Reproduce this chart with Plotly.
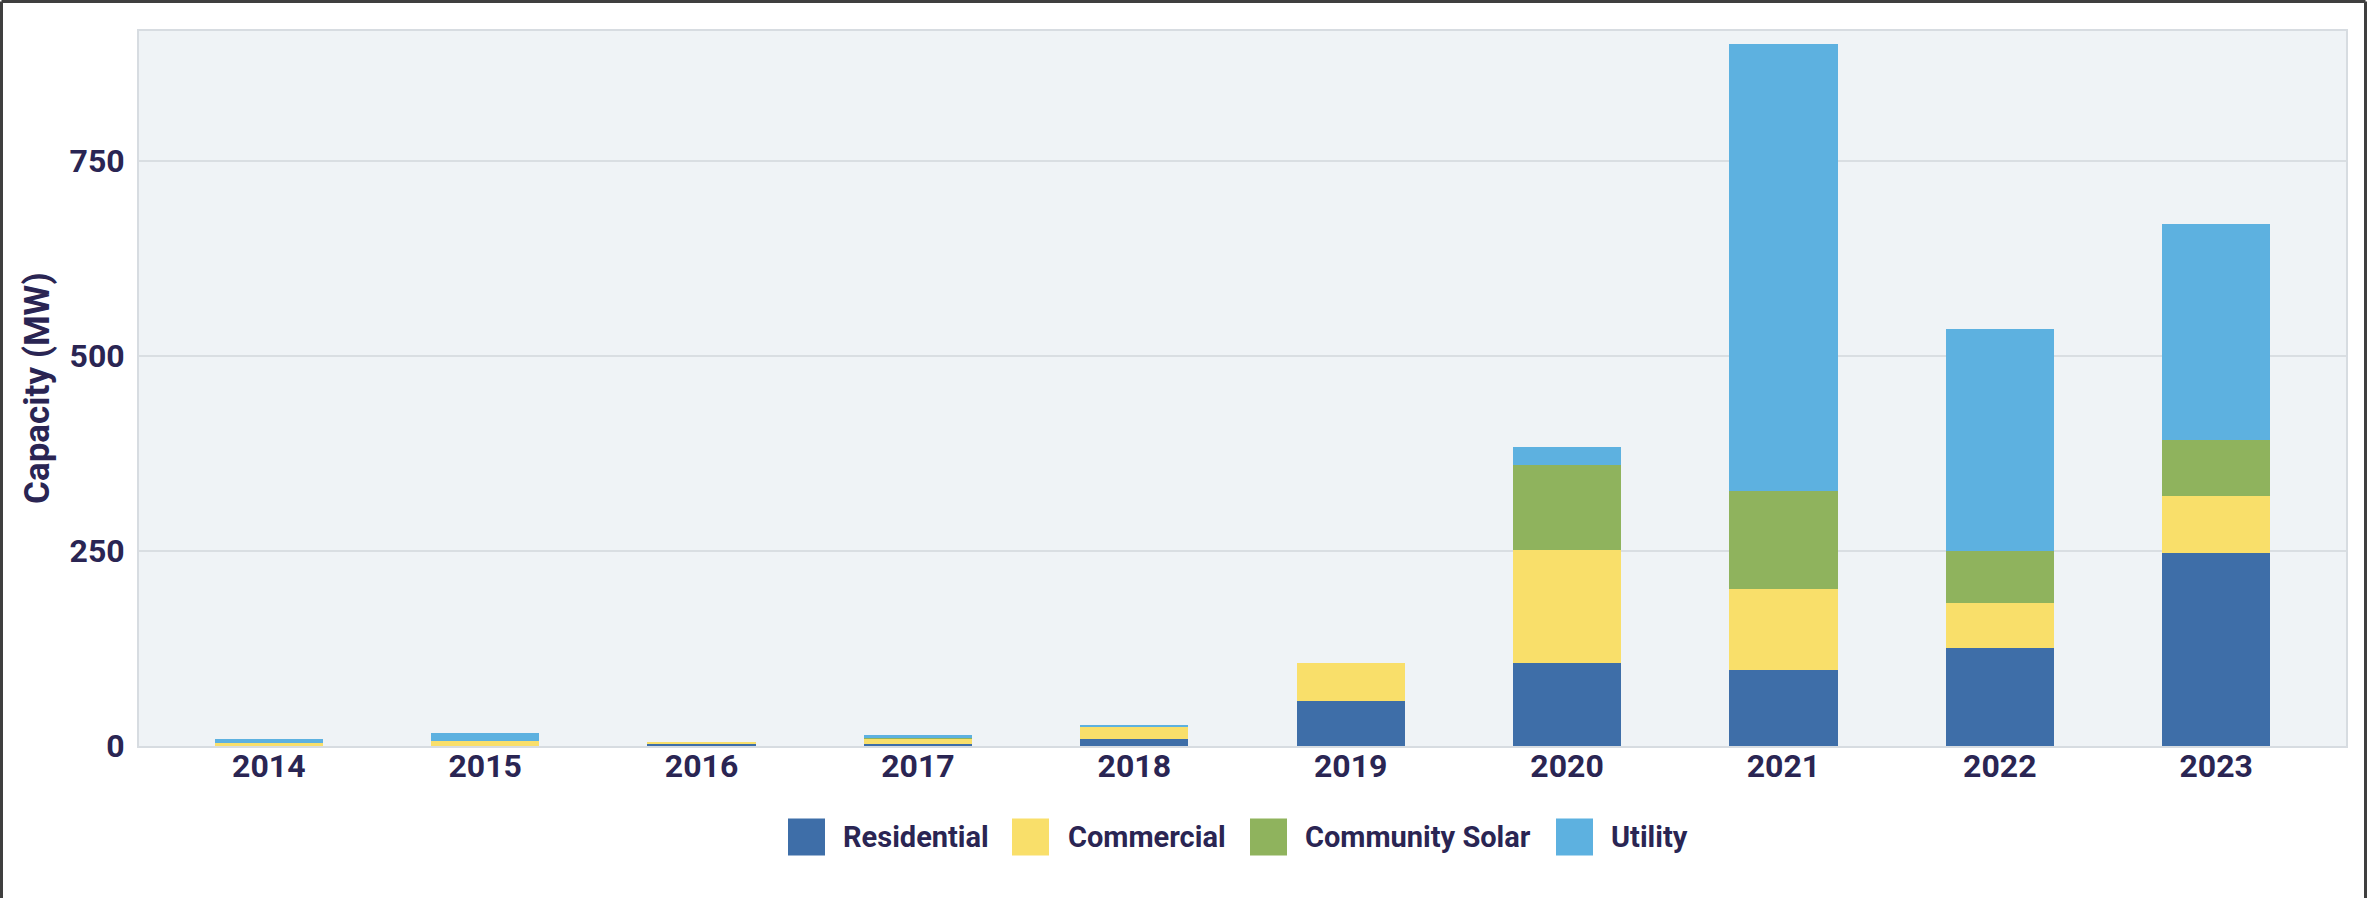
import plotly.graph_objects as go

# Installed capacity by market segment (MW)
years = ["2014", "2015", "2016", "2017", "2018", "2019", "2020", "2021", "2022", "2023"]
residential = [0, 0, 3, 3, 8.5, 58, 106, 97, 126, 248]
commercial = [4, 7, 1, 7, 16, 48, 146, 104, 58, 72]
community_solar = [0, 0, 0, 0.5, 0, 0, 109, 126, 66, 73]
utility = [5, 10, 0, 4, 2.5, 0, 22, 573, 285, 276]

segment_names = ["Residential", "Commercial", "Community Solar", "Utility"]
segment_values = [residential, commercial, community_solar, utility]
segment_colors = ["#3E6EA8", "#F9DF6A", "#8FB35D", "#5DB1E0"]

y_ticks = [0, 250, 500, 750]

W, H = 2367, 898
ML, MR, MT, MB = 139, 21, 31, 152
PW, PH = W - ML - MR, H - MT - MB

TEXT = "#2A2553"
FONT = "Roboto"


def px_x(px):
    return (px - ML) / PW


def px_y(py):
    return (H - MB - py) / PH


fig = go.Figure()
for name, vals, col in zip(segment_names, segment_values, segment_colors):
    fig.add_trace(go.Bar(
        x=years, y=vals, name=name, width=0.5,
        marker=dict(color=col, line=dict(width=0)),
        showlegend=False,
    ))

shapes = []
annotations = []

# legend: large square swatches with labels underneath the chart
legend_swatch_left = [788, 1012, 1250, 1556]
legend_text_left = [841, 1066, 1303, 1609]
swatch_size = 37
legend_cy = 837
for name, col, sx, tx in zip(segment_names, segment_colors, legend_swatch_left, legend_text_left):
    shapes.append(dict(
        type="rect", xref="paper", yref="paper",
        x0=px_x(sx), x1=px_x(sx + swatch_size),
        y0=px_y(legend_cy + swatch_size / 2), y1=px_y(legend_cy - swatch_size / 2),
        fillcolor=col, line=dict(width=0),
    ))
    annotations.append(dict(
        text=name, xref="paper", yref="paper",
        x=px_x(tx), y=px_y(legend_cy), xanchor="left", yanchor="middle",
        showarrow=False, font=dict(family=FONT, size=29, color=TEXT, weight="bold"),
    ))

# y-axis title
annotations.append(dict(
    text="Capacity (MW)", xref="paper", yref="paper",
    x=px_x(37.5), y=0.5, xanchor="center", yanchor="middle", textangle=-90,
    showarrow=False, font=dict(family=FONT, size=35, color=TEXT, weight="bold"),
))

# outer frame (top, left, right edges)
frame_col = "#3F3F3F"
for x0, y0, x1, y1 in [(1.5, 1.5, 2365.5, 1.5), (1.5, 1.5, 1.5, 900), (2365.5, 1.5, 2365.5, 900)]:
    shapes.append(dict(
        type="line", xref="paper", yref="paper",
        x0=px_x(x0), y0=px_y(y0), x1=px_x(x1), y1=px_y(y1),
        line=dict(color=frame_col, width=3),
    ))

fig.update_layout(
    width=W, height=H,
    margin=dict(l=ML, r=MR, t=MT, b=MB, pad=0),
    barmode="stack",
    paper_bgcolor="white",
    plot_bgcolor="#EFF3F6",
    font=dict(family=FONT, color=TEXT),
    shapes=shapes,
    annotations=annotations,
    showlegend=False,
    xaxis=dict(
        type="category", range=[-0.6, 9.6],
        showgrid=False, zeroline=False,
        showline=True, mirror=True, linecolor="#D7DCE1", linewidth=2,
        ticks="outside", ticklen=0, ticklabelstandoff=-9,
        tickfont=dict(family=FONT, size=32, color=TEXT, weight="bold"),
    ),
    yaxis=dict(
        range=[0, 917], tickvals=y_ticks,
        showgrid=True, gridcolor="#D9DEE2", gridwidth=2,
        zeroline=False,
        showline=True, mirror=True, linecolor="#D7DCE1", linewidth=2,
        ticks="outside", ticklen=6, tickcolor="rgba(0,0,0,0)",
        tickfont=dict(family=FONT, size=32, color=TEXT, weight="bold"),
    ),
)

fig.write_html("out.html")
